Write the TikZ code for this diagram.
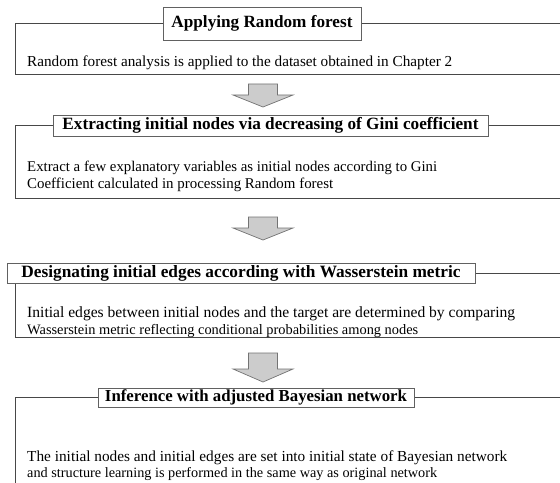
\documentclass[tikz,border=0pt]{standalone}
\usepackage{fontspec}
\setmainfont{Liberation Serif}
\usepackage{graphicx}
\newcommand{\fitw}[2]{\resizebox{#1bp}{!}{#2}}
\tikzset{
  frameline/.style={draw=black!72, line width=0.8bp},
  titlebox/.style={draw=black!62, fill=white, line width=0.9bp, inner sep=0pt, font=\bfseries},
  blockarrow/.style={draw=black!55, fill=black!20, line width=0.7bp, line join=miter},
  bodytext/.style={anchor=base west, inner sep=0pt},
}
\begin{document}
\begin{tikzpicture}[x=1bp, y=-1bp]
\useasboundingbox (0,0) rectangle (560,483);
\clip (0,0) rectangle (560,483);
\fill[white] (0,0) rectangle (560,483);

% frames
\draw[frameline] (570,23.5) -- (15,23.5) -- (15,74) -- (570,74);
\draw[frameline] (570,125.5) -- (15,125.5) -- (15,198) -- (570,198);
\draw[frameline] (570,273) -- (15,273) -- (15,337) -- (570,337);
\draw[frameline] (570,397.5) -- (15,397.5) -- (15,490);

% title boxes
\node[titlebox, minimum width=198bp, minimum height=33bp] (t1) at (262,23.5) {\fitw{181}{Applying Random forest}};
\node[titlebox, minimum width=435bp, minimum height=21bp] (t2) at (270.5,125.5) {\fitw{416}{Extracting initial nodes via decreasing of Gini coefficient}};
\node[titlebox, minimum width=468bp, minimum height=20bp] (t3) at (241,273) {\fitw{439}{Designating initial edges according with Wasserstein metric}};
\node[titlebox, minimum width=316bp, minimum height=19bp] (t4) at (256,397.5) {\fitw{302}{Inference with adjusted Bayesian network}};

% body texts
\node[bodytext] (b1) at (27,67) {\fitw{425}{Random forest analysis is applied to the dataset obtained in Chapter 2}};
\node[bodytext] (b2a) at (27,172) {\fitw{410}{Extract a few explanatory variables as initial nodes according to Gini}};
\node[bodytext] (b2b) at (27,189) {\fitw{306}{Coefficient calculated in processing Random forest}};
\node[bodytext] (b3a) at (27,317) {\fitw{488}{Initial edges between initial nodes and the target are determined by comparing}};
\node[bodytext] (b3b) at (27,334) {\fitw{391}{Wasserstein metric reflecting conditional probabilities among nodes}};
\node[bodytext] (b4a) at (27,461) {\fitw{480}{The initial nodes and initial edges are set into initial state of Bayesian network}};
\node[bodytext] (b4b) at (27,477) {\fitw{410}{and structure learning is performed in the same way as original network}};

% block arrows
\coordinate (a1) at (263,84);
\coordinate (a2) at (263,217);
\coordinate (a3) at (263,353);
\draw[blockarrow] (a1) ++(-14.5,0) -- ++(29,0) -- ++(0,11) -- ++(15.5,0) -- ++(-30,12) -- ++(-30,-12) -- ++(15.5,0) -- cycle;
\draw[blockarrow] (a2) ++(-14.5,0) -- ++(29,0) -- ++(0,11) -- ++(15.5,0) -- ++(-30,12) -- ++(-30,-12) -- ++(15.5,0) -- cycle;
\draw[blockarrow] (a3) ++(-14.5,0) -- ++(29,0) -- ++(0,16) -- ++(15.5,0) -- ++(-30,13) -- ++(-30,-13) -- ++(15.5,0) -- cycle;
\end{tikzpicture}
\end{document}
